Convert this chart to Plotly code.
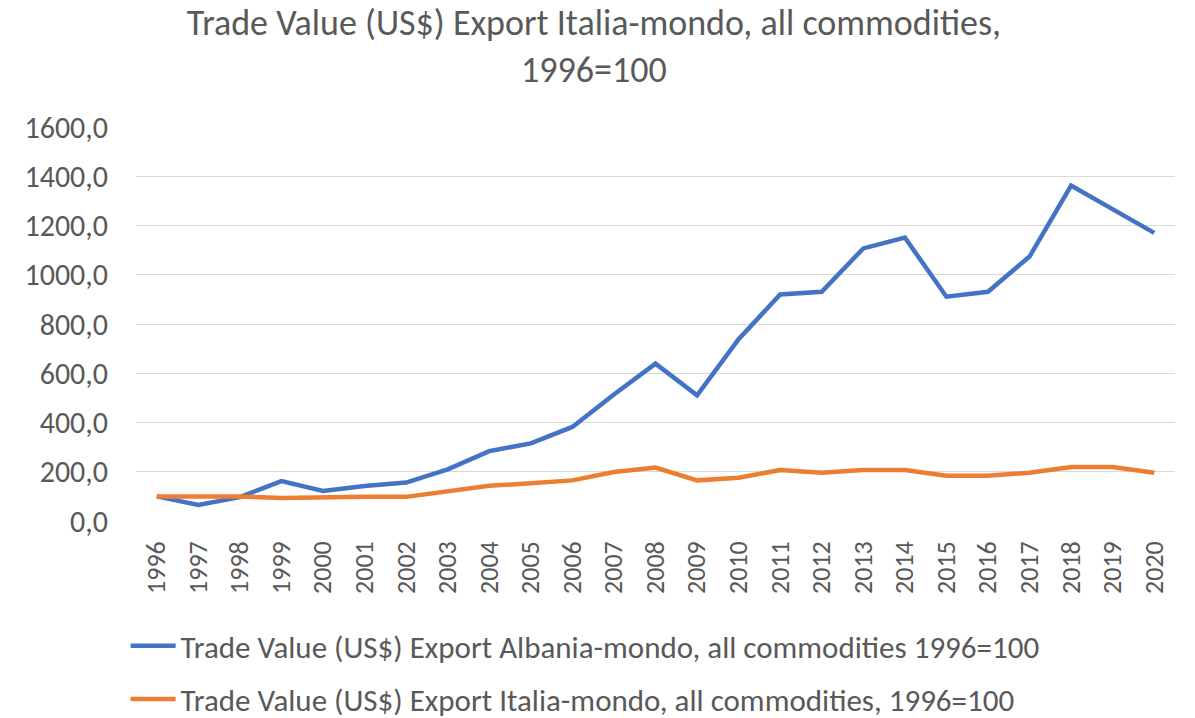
import plotly.graph_objects as go

years = [str(y) for y in range(1996, 2021)]
albania = [100, 65, 97, 162, 122, 142, 156, 210, 284, 315, 382, 514, 639,
           510, 738, 920, 931, 1107, 1151, 911, 931, 1074, 1362, 1266, 1170]
italia = [100, 100, 100, 93, 97, 98, 98, 122, 143, 153, 165, 199, 217,
          165, 176, 207, 196, 207, 207, 184, 184, 196, 219, 219, 196]
name_alb = "Trade Value (US$) Export Albania-mondo, all commodities 1996=100"
name_ita = "Trade Value (US$) Export Italia-mondo, all commodities, 1996=100"
title_text = "Trade Value (US$) Export Italia-mondo, all commodities,<br>1996=100"

FONT = "Carlito, Calibri, Lato, sans-serif"
GREY = "#595959"

fig = go.Figure()
fig.add_trace(go.Scatter(x=years, y=albania, mode="lines", name=name_alb,
                         line=dict(color="#4472C4", width=4.5), legendgroup="a"))
fig.add_trace(go.Scatter(x=years, y=italia, mode="lines", name=name_ita,
                         line=dict(color="#ED7D31", width=4.5), legendgroup="b"))

fig.update_layout(
    width=1195, height=718,
    paper_bgcolor="white", plot_bgcolor="white",
    margin=dict(l=136, r=20, t=127, b=197, autoexpand=False),
    separators=",.",
    font=dict(family=FONT, color=GREY, size=26),
    title=dict(text=title_text, x=0.497, xanchor="center", xref="container",
               y=1 - 35 / 718, yanchor="middle", yref="container",
               font=dict(size=36, color=GREY, family=FONT), automargin=False),
    xaxis=dict(type="category", tickangle=-90, showgrid=False, showline=False,
               ticks="", tickfont=dict(size=26, color=GREY), range=[-0.5, 24.5],
               automargin=False, ticklabelstandoff=14),
    yaxis=dict(range=[0, 1600], dtick=200, tickformat=".1f", showgrid=True,
               gridcolor="#D9D9D9", gridwidth=1.3, zeroline=False, showline=False,
               ticks="", tickfont=dict(size=30, color=GREY), automargin=False,
               ticklabelstandoff=27),
    legend=dict(orientation="v", x=-0.01, xanchor="left", y=-0.249, yanchor="top",
                font=dict(size=31, color=GREY), tracegroupgap=10, itemwidth=45,
                bgcolor="rgba(0,0,0,0)"),
    showlegend=True,
)

fig.write_html("out.html", post_script="document.body.style.margin='0';",
               config={"displayModeBar": False})
